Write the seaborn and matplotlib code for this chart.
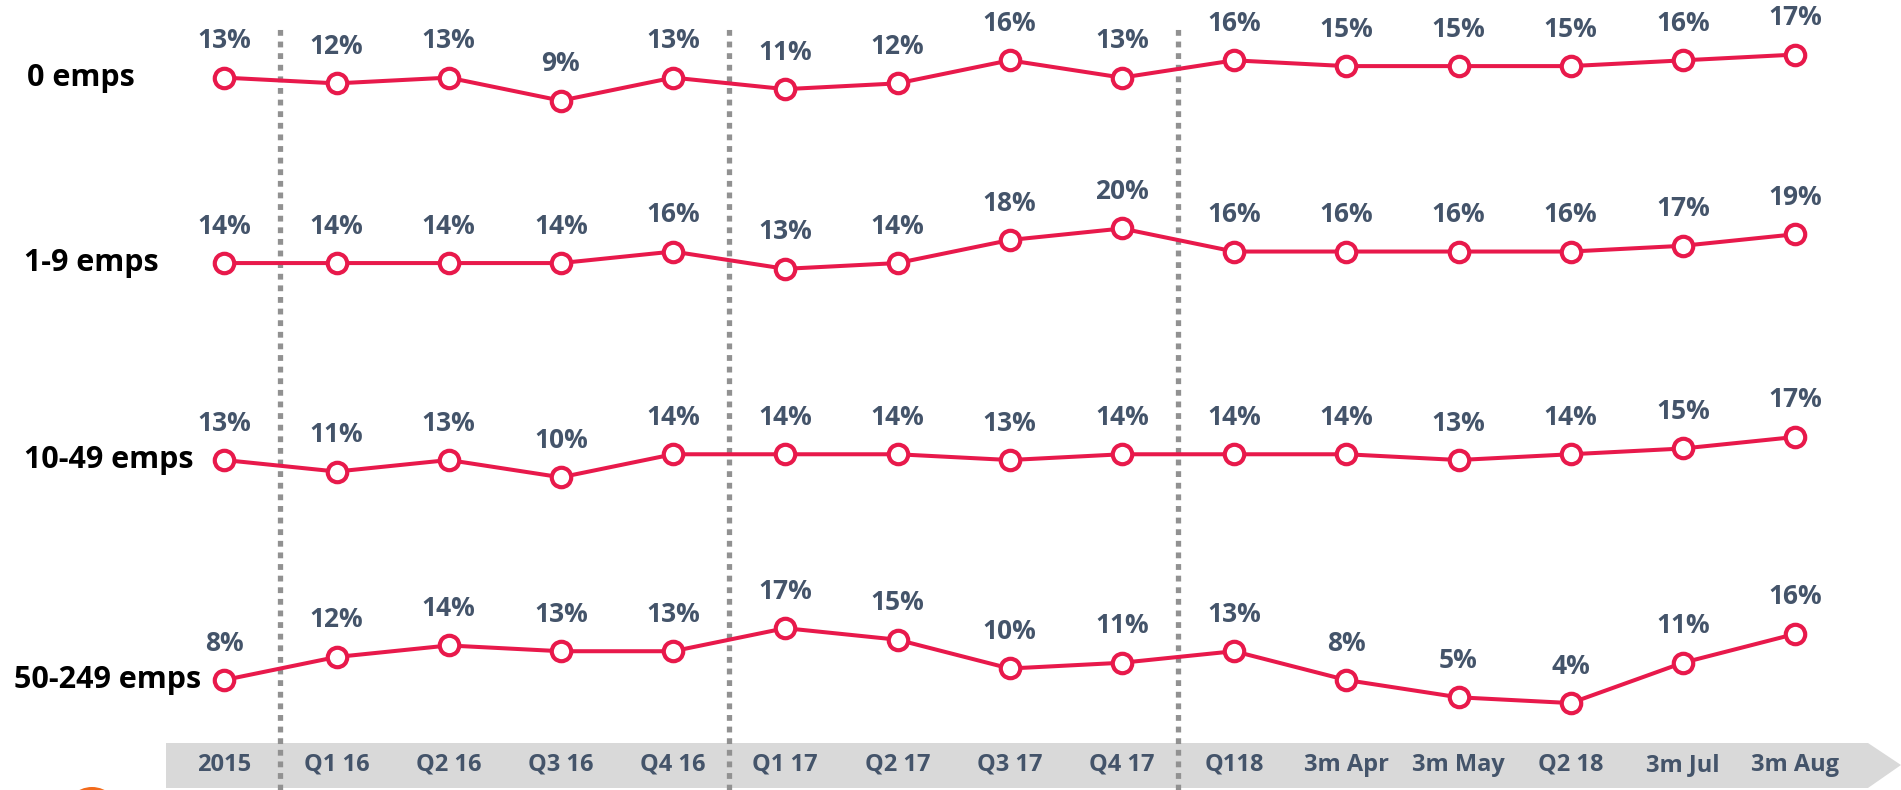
import pandas as pd
import numpy as np
import matplotlib
matplotlib.use('Agg')
import matplotlib.pyplot as plt
import seaborn as sns
from matplotlib.patches import Polygon, Circle

periods = ['2015', 'Q1 16', 'Q2 16', 'Q3 16', 'Q4 16', 'Q1 17', 'Q2 17', 'Q3 17',
           'Q4 17', 'Q118', '3m Apr', '3m May', 'Q2 18', '3m Jul', '3m Aug']
row_labels = ['0 emps', '1-9 emps', '10-49 emps', '50-249 emps']

emps_0 = [13, 12, 13, 9, 13, 11, 12, 16, 13, 16, 15, 15, 15, 16, 17]
emps_1_9 = [14, 14, 14, 14, 16, 13, 14, 18, 20, 16, 16, 16, 16, 17, 19]
emps_10_49 = [13, 11, 13, 10, 14, 14, 14, 13, 14, 14, 14, 13, 14, 15, 17]
emps_50_249 = [8, 12, 14, 13, 13, 17, 15, 10, 11, 13, 8, 5, 4, 11, 16]

series = [emps_0, emps_1_9, emps_10_49, emps_50_249]

RED = '#E8194B'
SLATE = '#44546A'
GREY_BAND = '#D9D9D9'
DOTS = '#919191'

sns.set_theme(style='white')
plt.rcParams['font.family'] = ['Open Sans', 'DejaVu Sans']
fs_val, fs_tick, fs_row = 19, 17, 22

# pixel layout of the slide (1901 x 790)
X0, DX = 224.3, 112.2          # first point, step between periods
Y0, PPU = 152.5, 5.76          # zero level of first row, pixels per percentage point
ROW_GAP = 191.2 / PPU          # vertical offset between rows in data units
LABEL_LEFT = [27, 24, 24, 14]  # left edge of the row labels, pixels


def px2x(px):
    return (px - X0) / DX


def py2y(py):
    return (Y0 - py) / PPU


rows = []
for r, (lab, vals) in enumerate(zip(row_labels, series)):
    for i, v in enumerate(vals):
        rows.append({'group': lab, 'pos': i, 'value': v, 'y': v - r * ROW_GAP})
df = pd.DataFrame(rows)

fig = plt.figure(figsize=(19.01, 7.90), dpi=100)
ax = fig.add_axes([0, 0, 1, 1])

# grey timeline band with arrow tip
band = Polygon([(px2x(166), py2y(743)), (px2x(1868), py2y(743)), (px2x(1901), py2y(765)),
                (px2x(1868), py2y(788)), (px2x(166), py2y(788))],
               closed=True, facecolor=GREY_BAND, edgecolor='none', zorder=0)
ax.add_patch(band)

# period separators
for xs in [0.5, 4.5, 8.5]:
    ax.axvline(xs, ymin=0, ymax=1 - 29 / 790, color=DOTS, lw=3.8,
               linestyle=(0, (1.1, 1.1)), zorder=1)

sns.lineplot(data=df, x='pos', y='y', units='group', estimator=None, color=RED,
             lw=2.9, marker='o', markersize=14, markerfacecolor='white',
             markeredgecolor=RED, markeredgewidth=3.0, legend=False, ax=ax, zorder=3)

for _, row in df.iterrows():
    ax.annotate(f"{row['value']}%", (row['pos'], row['y']), xytext=(0, 37),
                textcoords='offset pixels', ha='center', va='center',
                fontsize=fs_val, fontweight='bold', color=SLATE, zorder=4)

for r, lab in enumerate(row_labels):
    ax.text(px2x(LABEL_LEFT[r]), series[r][0] - r * ROW_GAP, lab, ha='left', va='center',
            fontsize=fs_row, fontweight='bold', color='black')

for i, p in enumerate(periods):
    ax.text(i, py2y(765), p, ha='center', va='center', fontsize=fs_tick,
            fontweight='bold', color=SLATE, zorder=2)

# partial orange logo peeking in at the bottom edge
ax.add_patch(Circle((92, -25), 28, transform=None, facecolor='#F26A1B',
                    edgecolor='none', clip_on=False))

ax.set_xlim(px2x(0), px2x(1901))
ax.set_ylim(py2y(790), py2y(0))
ax.set_axis_off()

fig.savefig('out.png', dpi=100)
